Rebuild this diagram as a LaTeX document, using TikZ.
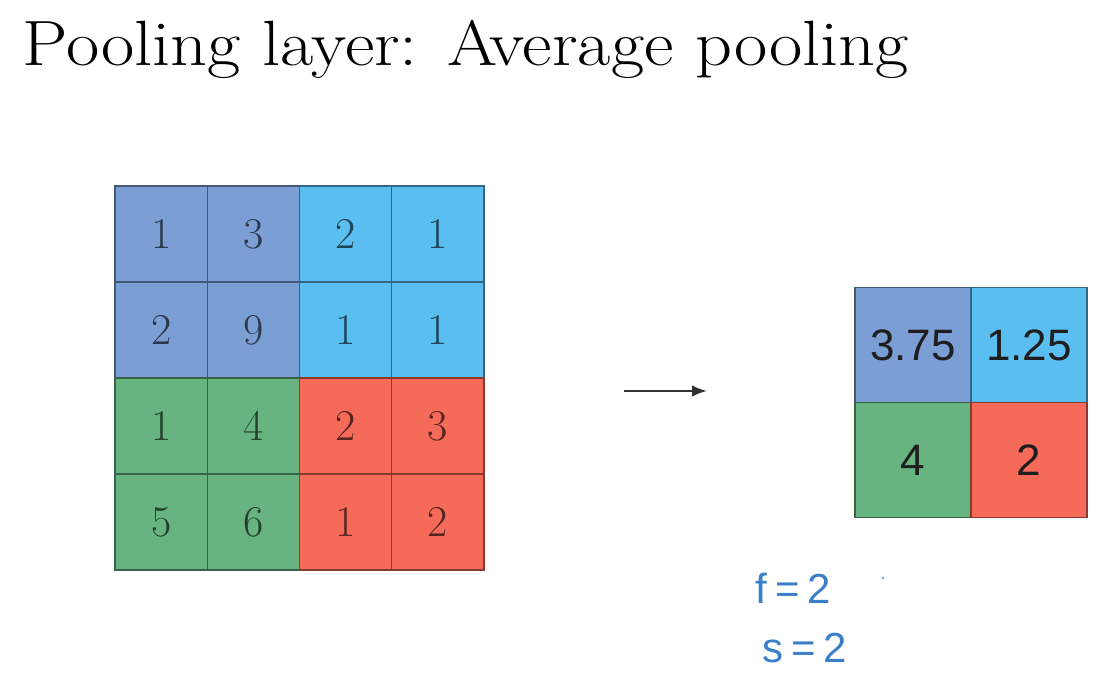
\documentclass[tikz,border=0pt]{standalone}
\usepackage{fontspec}
\newfontfamily\handfont{Liberation Sans}
\usetikzlibrary{arrows.meta,positioning}
\definecolor{poolblue}{RGB}{123,158,213}
\definecolor{poolcyan}{RGB}{91,190,240}
\definecolor{poolgreen}{RGB}{104,180,128}
\definecolor{poolred}{RGB}{246,106,90}
\definecolor{inkblue}{RGB}{58,128,200}
\definecolor{inkdark}{RGB}{30,30,30}

\begin{document}
\begin{tikzpicture}[x=0.5pt,y=-0.5pt,
  incell/.style={draw=#1!55!black, fill=#1, line width=0.6pt, text=#1!35!black,
    minimum width=46.1pt, minimum height=48pt, inner sep=0pt, outer sep=0pt,
    font=\fontsize{22}{26}\selectfont},
  outcell/.style={draw=#1!55!black, fill=#1, line width=0.6pt, text=inkdark,
    minimum width=58pt, minimum height=57.5pt, inner sep=0pt, outer sep=0pt,
    font=\handfont\fontsize{22}{26}\selectfont},
  note/.style={text=inkblue, inner sep=0pt, font=\handfont\fontsize{21}{24}\selectfont}]
\useasboundingbox (0,0) rectangle (1103,688);
% title
\node[anchor=base west, inner sep=0pt, font=\fontsize{32}{38}\selectfont] (title) at (22,66) {\scalebox{1.13}[1]{Pooling layer: Average pooling}};
% input 4x4
\foreach \val [count=\i from 0] in {1,3,2,1,2,9,1,1,1,4,2,3,5,6,1,2} {
  \pgfmathtruncatemacro{\r}{div(\i,4)}
  \pgfmathtruncatemacro{\c}{mod(\i,4)}
  \pgfmathtruncatemacro{\q}{2*(\r>1)+(\c>1)}
  \ifcase\q \def\cellcol{poolblue}\or \def\cellcol{poolcyan}\or \def\cellcol{poolgreen}\else \def\cellcol{poolred}\fi
  \node[incell=\cellcol] (in\r\c) at ({115+92.25*(\c+0.5)},{186+96*(\r+0.5)}) {\val};
}
% output 2x2
\node[outcell=poolblue] (out00) at (913,345) {3.75};
\node[outcell=poolcyan] (out01) at (1029,345) {1.25};
\node[outcell=poolgreen] (out10) at (913,460) {4};
\node[outcell=poolred] (out11) at (1029,460) {2};
% arrow
\coordinate (arrS) at (624,391);
\coordinate (arrE) at (707,391);
\draw[-{Latex[length=2.6mm,width=2mm]}, line width=1.1pt, black!80] (arrS) -- (arrE);
% hyperparameters
\node[note, anchor=west] (fnote) at (755,588) {f\hspace{4pt}=\hspace{4pt}2};
\node[note, anchor=west] (snote) at (762,648) {s\hspace{4pt}=\hspace{4pt}2};
\fill[inkblue!60] (883,578) circle (0.8pt);
\end{tikzpicture}
\end{document}
